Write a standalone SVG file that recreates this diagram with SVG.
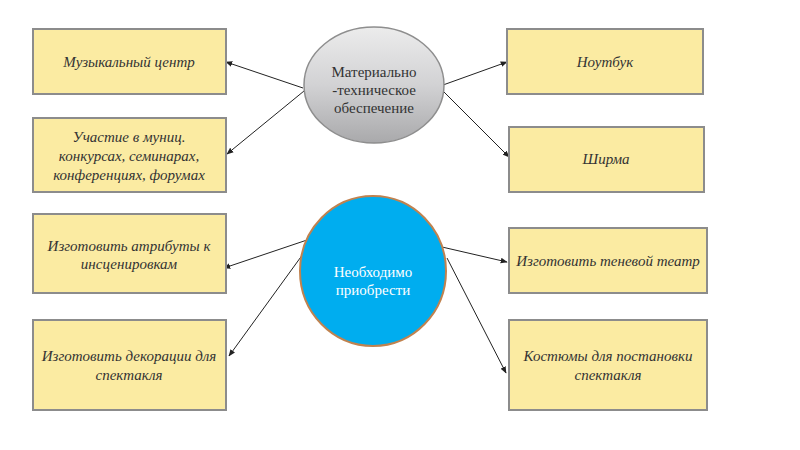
<svg xmlns="http://www.w3.org/2000/svg" width="800" height="450" viewBox="0 0 800 450">
<defs>
<linearGradient id="gray" x1="0" y1="0" x2="0" y2="1">
<stop offset="0" stop-color="#ececec"/>
<stop offset="0.5" stop-color="#d2d2d4"/>
<stop offset="1" stop-color="#a9a9ab"/>
</linearGradient>
<marker id="arr" viewBox="0 0 10 10" refX="9" refY="5" markerWidth="7" markerHeight="7" orient="auto" markerUnits="userSpaceOnUse">
<path d="M0,1 L10,5 L0,9 z" fill="#222"/>
</marker>
<style>
.box{fill:#fbeba2;stroke:#8c8c8c;stroke-width:2}
.bt{font-family:"Liberation Serif",serif;font-style:italic;font-size:15px;fill:#333;text-anchor:middle}
.ct{font-family:"Liberation Serif",serif;font-size:15px;text-anchor:middle}
.con{stroke:#222;stroke-width:1;fill:none;marker-end:url(#arr)}
</style>
</defs>
<rect width="800" height="450" fill="#fff"/>
<g id="connectors">
<line class="con" x1="303" y1="88" x2="226" y2="62"/>
<line class="con" x1="304" y1="91" x2="227" y2="154"/>
<line class="con" x1="443" y1="85" x2="507" y2="62"/>
<line class="con" x1="442" y1="90" x2="509" y2="157"/>
<line class="con" x1="310" y1="239" x2="224" y2="268"/>
<line class="con" x1="311" y1="243" x2="229" y2="356"/>
<line class="con" x1="442" y1="247" x2="507" y2="262"/>
<line class="con" x1="447" y1="258" x2="506" y2="373"/>
</g>
<g id="center1">
<ellipse cx="374" cy="85" rx="70" ry="58" fill="url(#gray)" stroke="#8e8e8e" stroke-width="1.5"/>
<text class="ct" fill="#333" x="374" y="77">Материально</text>
<text class="ct" fill="#333" x="374" y="95">-техническое</text>
<text class="ct" fill="#333" x="374" y="113">обеспечение</text>
</g>
<g id="center2">
<ellipse cx="373" cy="271" rx="73" ry="75" fill="#00adef" stroke="#c0824f" stroke-width="2"/>
<text class="ct" fill="#fff" x="373" y="277">Необходимо</text>
<text class="ct" fill="#fff" x="373" y="295">приобрести</text>
</g>
<g id="n1">
<rect class="box" x="33" y="29" width="193" height="65"/>
<text class="bt" x="129" y="67">Музыкальный центр</text>
</g>
<g id="n2">
<rect class="box" x="33" y="118" width="193" height="74"/>
<text class="bt" x="129" y="142">Участие в муниц.</text>
<text class="bt" x="129" y="161">конкурсах, семинарах,</text>
<text class="bt" x="129" y="180">конференциях, форумах</text>
</g>
<g id="n3">
<rect class="box" x="33" y="214" width="193" height="79"/>
<text class="bt" x="129" y="251">Изготовить атрибуты к</text>
<text class="bt" x="129" y="269">инсценировкам</text>
</g>
<g id="n4">
<rect class="box" x="33" y="320" width="193" height="90"/>
<text class="bt" x="129" y="361">Изготовить декорации для</text>
<text class="bt" x="129" y="380">спектакля</text>
</g>
<g id="n5">
<rect class="box" x="507" y="29" width="196" height="65"/>
<text class="bt" x="605" y="67">Ноутбук</text>
</g>
<g id="n6">
<rect class="box" x="509" y="127" width="195" height="65"/>
<text class="bt" x="606" y="164">Ширма</text>
</g>
<g id="n7">
<rect class="box" x="509" y="228" width="198" height="65"/>
<text class="bt" x="608" y="266">Изготовить теневой театр</text>
</g>
<g id="n8">
<rect class="box" x="509" y="320" width="198" height="90"/>
<text class="bt" x="608" y="361">Костюмы для постановки</text>
<text class="bt" x="608" y="380">спектакля</text>
</g>
</svg>
